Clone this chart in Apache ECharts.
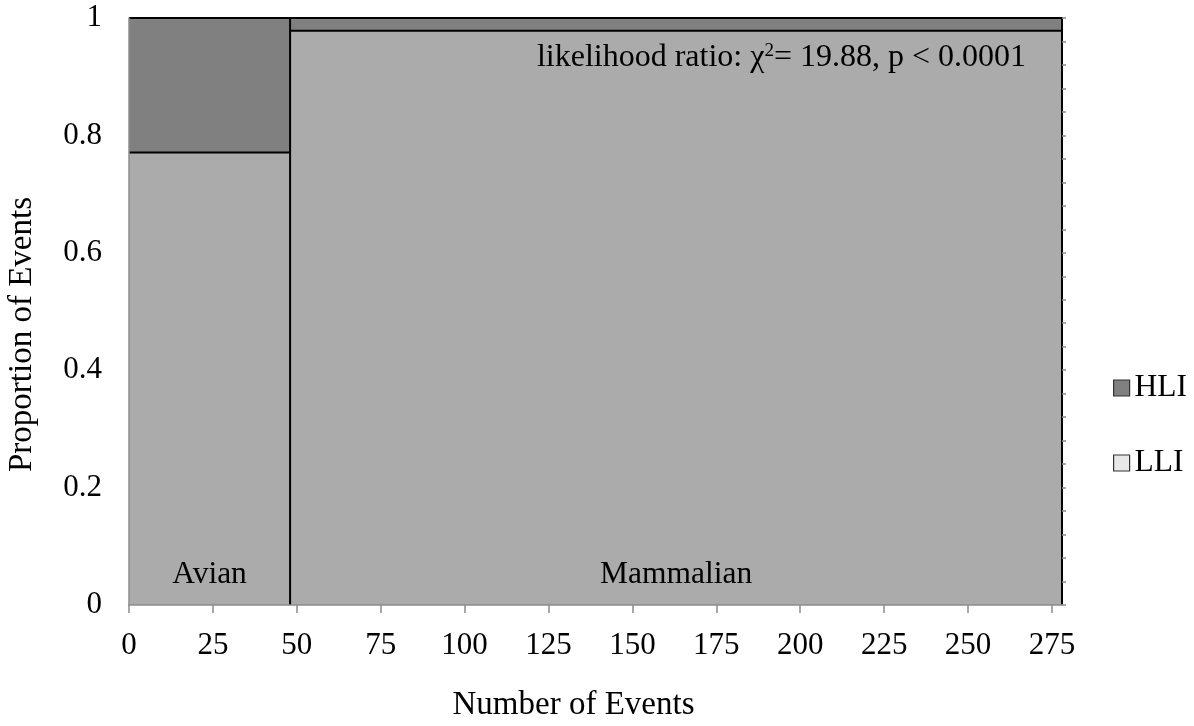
<!DOCTYPE html>
<html>
<head>
<meta charset="utf-8">
<script src="https://cdn.jsdelivr.net/npm/echarts@6/dist/echarts.min.js"></script>
<style>html,body{margin:0;padding:0;background:#fff;}#c{width:1194px;height:726px;}</style>
</head>
<body>
<div id="c"></div>
<script>
// Data
const categories = ['Avian', 'Mammalian'];
const hliCounts = [11, 5];     // high-level infection events
const lliCounts = [37, 225];   // low-level infection events
const xTicks = [0, 25, 50, 75, 100, 125, 150, 175, 200, 225, 250, 275];
const yTicks = [0, 0.2, 0.4, 0.6, 0.8, 1];
const annotation = 'likelihood ratio: χ{sup|2}= 19.88, p < 0.0001';

const FONT = '"Liberation Serif", "Times New Roman", serif';
const HLI_COLOR = '#808080';
const LLI_COLOR = '#ababab';

// Build mosaic tiles: [x0, x1, y0, y1, name]
const lliData = [], hliData = [];
let cum = 0;
categories.forEach((c, i) => {
  const total = hliCounts[i] + lliCounts[i];
  const pL = lliCounts[i] / total;
  lliData.push([cum, cum + total, 0, pL, c]);
  hliData.push([cum, cum + total, pL, 1, c]);
  cum += total;
});
const xMax = cum;

function makeRender(color, withLabel) {
  return function (params, api) {
    const p0 = api.coord([api.value(0), api.value(2)]);
    const p1 = api.coord([api.value(1), api.value(3)]);
    const children = [
      { type: 'rect', z2: 0, shape: { x: p0[0], y: p1[1], width: p1[0] - p0[0], height: p0[1] - p1[1] },
        style: { fill: color } },
      { type: 'polyline', z2: 20, shape: { points: [[p0[0], p1[1]], [p1[0], p1[1]], [p1[0], p0[1]]] },
        style: { stroke: '#000', lineWidth: 2, fill: null } }
    ];
    if (withLabel) {
      children.push({ type: 'text', z2: 30, style: {
        text: categories[params.dataIndex], x: (p0[0] + p1[0]) / 2, y: p0[1] - 30,
        textAlign: 'center', textVerticalAlign: 'middle',
        font: '31.5px ' + FONT, fill: '#000' } });
    }
    return { type: 'group', children };
  };
}

const chart = echarts.init(document.getElementById('c'));
chart.setOption({
  backgroundColor: '#fff',
  animation: false,
  grid: { left: 129, right: 132, top: 18, bottom: 121, containLabel: false, outerBoundsMode: 'none' },
  xAxis: {
    type: 'value', min: 0, max: xMax, z: 10,
    name: 'Number of Events', nameLocation: 'middle', nameGap: 84,
    nameTextStyle: { fontFamily: FONT, fontSize: 33, color: '#000', padding: [0, 44, 0, 0] },
    axisLine: { show: true, lineStyle: { color: '#8c8c8c', width: 1.5 } },
    axisTick: { show: true, length: 8, lineStyle: { color: '#8c8c8c', width: 1.5 }, customValues: xTicks },
    axisLabel: { fontFamily: FONT, fontSize: 31, color: '#000', margin: 25, customValues: xTicks },
    splitLine: { show: false }
  },
  yAxis: [{
    type: 'value', min: 0, max: 1, interval: 0.2, z: 10,
    name: 'Proportion of Events', nameLocation: 'middle', nameGap: 90,
    nameTextStyle: { fontFamily: FONT, fontSize: 33, color: '#000', padding: [0, 46, 0, 0] },
    axisLine: { show: true, lineStyle: { color: '#8c8c8c', width: 1.5 } },
    axisTick: { show: false },
    axisLabel: { fontFamily: FONT, fontSize: 31, color: '#000', margin: 27,
      customValues: yTicks, formatter: v => String(+v.toFixed(1)) },
    splitLine: { show: false }
  }, {
    type: 'value', min: 0, max: 1, interval: 0.04, position: 'right', z: 10,
    axisLine: { show: false },
    axisTick: { show: true, length: 4, inside: false, lineStyle: { color: '#8c8c8c', width: 1.5 } },
    axisLabel: { show: false },
    splitLine: { show: false }
  }],
  legend: {
    orient: 'vertical', left: 1108, top: 367, itemWidth: 16, itemHeight: 16, itemGap: 43,
    icon: 'rect',
    textStyle: { fontFamily: FONT, fontSize: 31.5, color: '#000' },
    data: [
      { name: 'HLI', itemStyle: { color: HLI_COLOR, borderColor: '#333', borderWidth: 1.2 } },
      { name: 'LLI', itemStyle: { color: '#e8e8e8', borderColor: '#333', borderWidth: 1.2 } }
    ]
  },
  graphic: [{
    type: 'text', z: 100,
    style: {
      text: annotation, x: 1026, y: 58, textAlign: 'right', textVerticalAlign: 'middle',
      font: '32px ' + FONT, fill: '#000',
      rich: { sup: { fontSize: 19, fontFamily: FONT, verticalAlign: 'top', padding: [0, 0, 14, 0] } }
    }
  }],
  series: [
    { name: 'LLI', type: 'custom', itemStyle: { color: LLI_COLOR },
      encode: { x: [0, 1], y: [2, 3] }, renderItem: makeRender(LLI_COLOR, true), data: lliData },
    { name: 'HLI', type: 'custom', itemStyle: { color: HLI_COLOR },
      encode: { x: [0, 1], y: [2, 3] }, renderItem: makeRender(HLI_COLOR, false), data: hliData }
  ]
});
</script>
</body>
</html>
